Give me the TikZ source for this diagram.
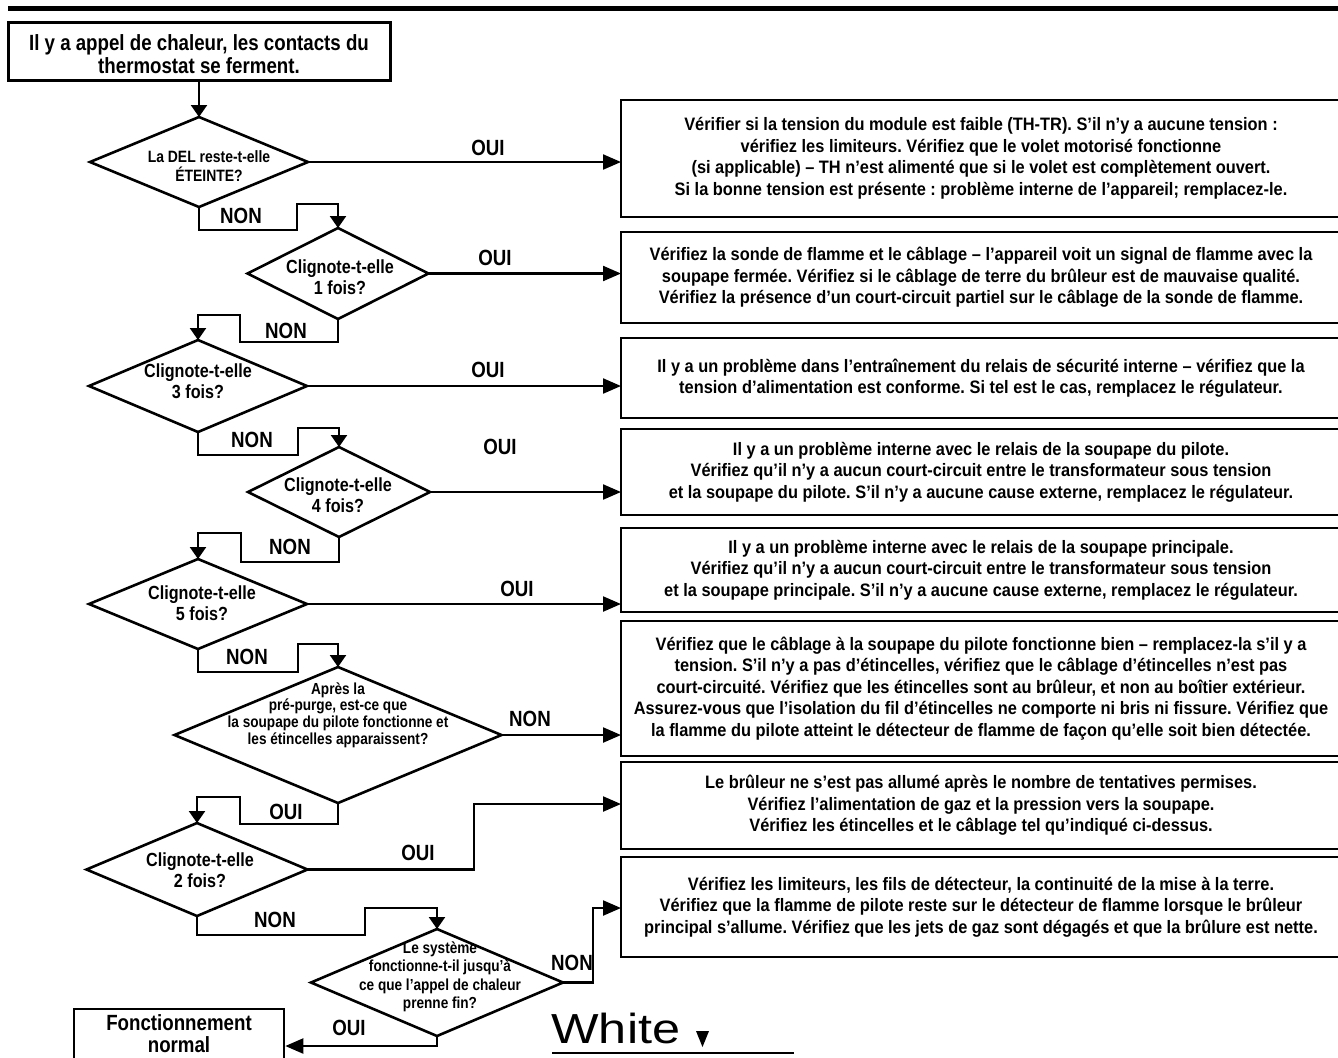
\documentclass[tikz,border=0pt]{standalone}
\usepackage{fontspec}
\setmainfont{Liberation Sans}[FakeStretch=0.85]
\newfontfamily\boxfont{Liberation Sans}[FakeStretch=0.91]
\newfontfamily\logofont{Liberation Sans}[FakeStretch=1.2]
\usetikzlibrary{shapes.geometric,arrows.meta}
\frenchspacing
\begin{document}
\begin{tikzpicture}[x=0.5pt,y=-0.5pt,
  dia/.style={draw, line width=1.3pt, shape=diamond, inner sep=0pt, outer sep=0pt},
  rbox/.style={draw, line width=1.2pt, minimum width=360pt, inner sep=0pt, outer sep=0pt,
    align=center, font=\boxfont\bfseries\fontsize{9}{10.75}\selectfont},
  conn/.style={line width=1.1pt},
  arr/.style={conn, -{Triangle[length=9pt,width=7.5pt]}},
  darr/.style={conn, -{Triangle[length=6pt,width=8pt]}},
  lab/.style={font=\bfseries\fontsize{11}{11}\selectfont, inner sep=0pt},
  dtext/.style={align=center, inner sep=0pt, font=\bfseries\fontsize{9.5}{10.5}\selectfont},
  stext/.style={align=center, inner sep=0pt, font=\bfseries\fontsize{8}{8.4}\selectfont}]
\useasboundingbox (0,0) rectangle (1338,1057);
% top bar
\fill (8,6) rectangle (1338,11);
% start box
\node[draw, line width=1.5pt, minimum width=191pt, minimum height=29pt, inner sep=0pt] (start) at (199,51) {};
\node[align=center, inner sep=0pt, font=\bfseries\fontsize{11}{11.5}\selectfont] (startt) at (199,54)
  {Il y a appel de chaleur, les contacts du\\thermostat se ferment.};
% diamonds
\node[dia, minimum width=109pt, minimum height=45pt] (d1) at (199,162) {};
\node[dia, minimum width=90.5pt, minimum height=45.5pt] (d2) at (338,273.5) {};
\node[dia, minimum width=109pt, minimum height=46pt] (d3) at (198,386) {};
\node[dia, minimum width=91pt, minimum height=45pt] (d4) at (339,492) {};
\node[dia, minimum width=109pt, minimum height=45pt] (d5) at (198,604) {};
\node[dia, minimum width=163.5pt, minimum height=68pt] (d6) at (338,735) {};
\node[dia, minimum width=110.5pt, minimum height=46.5pt] (d7) at (197,869.5) {};
\node[dia, minimum width=126pt, minimum height=53.5pt] (d8) at (437,982.5) {};
% diamond texts
\node[dtext, font=\bfseries\fontsize{8.2}{9.2}\selectfont] (t1) at (209,166) {La DEL reste-t-elle\\ÉTEINTE?};
\node[dtext] (t2) at (340,277) {Clignote-t-elle\\1 fois?};
\node[dtext] (t3) at (198,381) {Clignote-t-elle\\3 fois?};
\node[dtext] (t4) at (338,495) {Clignote-t-elle\\4 fois?};
\node[dtext] (t5) at (202,603) {Clignote-t-elle\\5 fois?};
\node[stext] (t6) at (338,715) {Après la\\pré-purge, est-ce que\\la soupape du pilote fonctionne et\\les étincelles apparaissent?};
\node[dtext] (t7) at (200,870) {Clignote-t-elle\\2 fois?};
\node[stext, font=\bfseries\fontsize{8}{9.25}\selectfont] (t8) at (440,977) {Le système\\fonctionne-t-il jusqu’à\\ce que l’appel de chaleur\\prenne fin?};
% right boxes
\node[rbox, minimum height=58.5pt] (bA) at (981,158.5)
  {Vérifier si la tension du module est faible (TH-TR). S’il n’y a aucune tension :\\
   vérifiez les limiteurs. Vérifiez que le volet motorisé fonctionne\\
   (si applicable) – TH n’est alimenté que si le volet est complètement ouvert.\\
   Si la bonne tension est présente : problème interne de l’appareil; remplacez-le.};
\node[rbox, minimum height=45.5pt] (bB) at (981,277.5)
  {Vérifiez la sonde de flamme et le câblage – l’appareil voit un signal de flamme avec la\\
   soupape fermée. Vérifiez si le câblage de terre du brûleur est de mauvaise qualité.\\
   Vérifiez la présence d’un court-circuit partiel sur le câblage de la sonde de flamme.};
\node[rbox, minimum height=40pt] (bC) at (981,378)
  {Il y a un problème dans l’entraînement du relais de sécurité interne – vérifiez que la\\
   tension d’alimentation est conforme. Si tel est le cas, remplacez le régulateur.};
\node[rbox, minimum height=43pt] (bD) at (981,472)
  {Il y a un problème interne avec le relais de la soupape du pilote.\\
   Vérifiez qu’il n’y a aucun court-circuit entre le transformateur sous tension\\
   et la soupape du pilote. S’il n’y a aucune cause externe, remplacez le régulateur.};
\node[rbox, minimum height=42pt] (bE) at (981,570)
  {Il y a un problème interne avec le relais de la soupape principale.\\
   Vérifiez qu’il n’y a aucun court-circuit entre le transformateur sous tension\\
   et la soupape principale. S’il n’y a aucune cause externe, remplacez le régulateur.};
\node[rbox, minimum height=67.5pt] (bF) at (981,688.5)
  {Vérifiez que le câblage à la soupape du pilote fonctionne bien – remplacez-la s’il y a\\
   tension. S’il n’y a pas d’étincelles, vérifiez que le câblage d’étincelles n’est pas\\
   court-circuité. Vérifiez que les étincelles sont au brûleur, et non au boîtier extérieur.\\
   Assurez-vous que l’isolation du fil d’étincelles ne comporte ni bris ni fissure. Vérifiez que\\
   la flamme du pilote atteint le détecteur de flamme de façon qu’elle soit bien détectée.};
\node[rbox, minimum height=43.5pt] (bG) at (981,805.5)
  {Le brûleur ne s’est pas allumé après le nombre de tentatives permises.\\
   Vérifiez l’alimentation de gaz et la pression vers la soupape.\\
   Vérifiez les étincelles et le câblage tel qu’indiqué ci-dessus.};
\node[rbox, minimum height=50pt] (bH) at (981,907)
  {Vérifiez les limiteurs, les fils de détecteur, la continuité de la mise à la terre.\\
   Vérifiez que la flamme de pilote reste sur le détecteur de flamme lorsque le brûleur\\
   principal s’allume. Vérifiez que les jets de gaz sont dégagés et que la brûlure est nette.};
% end box
\node[draw, line width=1.3pt, minimum width=105pt, minimum height=37pt, inner sep=0pt] (endb) at (179,1046) {};
\node[align=center, inner sep=0pt, font=\bfseries\fontsize{11}{11}\selectfont] (endt) at (179,1034) {Fonctionnement\\normal};
% connectors
\draw[darr] (start.south) -- (d1.north);
\draw[darr] (d1.south) -- ++(0,23) -| (297,204) -| (d2.north);
\draw[darr] (d2.south) -- ++(0,23) -| (240,315) -| (d3.north);
\draw[darr] (d3.south) -- ++(0,23) -| (298,428) -| (d4.north);
\draw[darr] (d4.south) -- ++(0,25) -| (241,533) -| (d5.north);
\draw[darr] (d5.south) -- ++(0,23) -| (298,644) -| (d6.north);
\draw[darr] (d6.south) -- ++(0,21) -| (240,797) -| (d7.north);
\draw[darr] (d7.south) -- ++(0,19) -| (365,908) -| (d8.north);
\draw[arr] (d1.east) -- (d1.east -| bA.west);
\draw[arr] (d2.east) -- (d2.east -| bB.west);
\draw[arr] (d3.east) -- (d3.east -| bC.west);
\draw[arr] (d4.east) -- (d4.east -| bD.west);
\draw[arr] (d5.east) -- (d5.east -| bE.west);
\draw[arr] (d6.east) -- (d6.east -| bF.west);
\draw[arr] (d7.east) -| (474,804) -- (bG.west |- 474,804);
\draw[arr] (d8.east) -| (593,908) -- (bH.west |- 593,908);
\draw[arr] (d8.south) |- (endb.east);
% labels
\node[lab] (l1) at (488,148) {OUI};
\node[lab] (l2) at (241,216) {NON};
\node[lab] (l3) at (495,258) {OUI};
\node[lab] (l4) at (286,331) {NON};
\node[lab] (l5) at (488,370) {OUI};
\node[lab] (l6) at (252,440) {NON};
\node[lab] (l7) at (500,447) {OUI};
\node[lab] (l8) at (290,547) {NON};
\node[lab] (l9) at (517,589) {OUI};
\node[lab] (l10) at (247,657) {NON};
\node[lab] (l11) at (530,719) {NON};
\node[lab] (l12) at (286,812) {OUI};
\node[lab] (l13) at (418,853) {OUI};
\node[lab] (l14) at (275,920) {NON};
\node[lab] (l15) at (572,963) {NON};
\node[lab] (l16) at (349,1028) {OUI};
% logo
\node[anchor=base west, inner sep=0pt, font=\logofont\fontsize{21}{21}\selectfont] (logo) at (551,1043) {White};
\fill (696,1031) -- (709,1031) -- (702.5,1047) -- cycle;
\draw[line width=1pt] (552,1053) -- (794,1053);
\end{tikzpicture}
\end{document}
